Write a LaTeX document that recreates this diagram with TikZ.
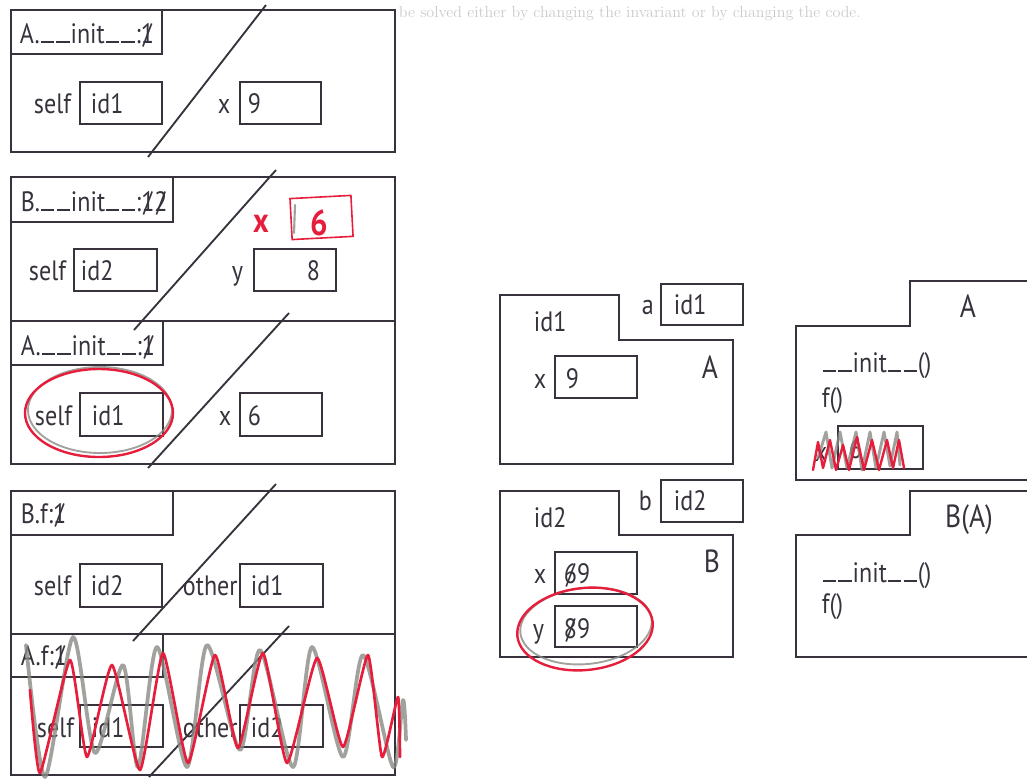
\documentclass[tikz,border=0pt]{standalone}
\usepackage{fontspec}
\newfontfamily\handfont[FakeStretch=0.86]{PT Sans}
\newcommand{\xo}[1]{\ooalign{#1\cr\hidewidth/\hidewidth\cr}}
\newcommand{\us}{\kern0.04em\rule{0.47em}{0.06em}\kern0.04em}
\definecolor{ink}{HTML}{37323C}
\definecolor{pen}{HTML}{E61E3C}
\definecolor{pencil}{HTML}{8A8A84}
\definecolor{ghost}{HTML}{CACACE}
\tikzset{every picture/.style={line width=1.4pt}}
\tikzset{
  hand/.style={font=\handfont\fontsize{21}{24}\selectfont, text=ink, inner sep=0.75pt},
  big/.style={font=\handfont\fontsize{24}{26}\selectfont, text=ink, inner sep=0.75pt},
  redmark/.style={draw=pen, line width=1.8pt, line join=round, line cap=round},
  greymark/.style={draw=pencil, line width=2.2pt, line join=round, line cap=round, opacity=0.8}
}

\begin{document}
\begin{tikzpicture}[x=0.75pt,y=0.75pt,yscale=-1,xscale=1]
\useasboundingbox (0,0) rectangle (1027,779);

% Text Node
\draw (397,17) node [anchor=base west][inner sep=0.75pt, text=ghost, font=\fontsize{12}{14}\selectfont] (bleed) {be solved either by changing the invariant or by changing the code.};

%%% frame A.__init__ (first call)
%Shape: Rectangle
\draw [ink] (11,10) -- (395,10) -- (395,152) -- (11,152) -- cycle ;
%Shape: Rectangle
\draw [ink] (11,10) -- (162,10) -- (162,54) -- (11,54) -- cycle ;
%Shape: Rectangle
\draw [ink] (80,82) -- (162,82) -- (162,124) -- (80,124) -- cycle ;
%Shape: Rectangle
\draw [ink] (240,82) -- (321,82) -- (321,124) -- (240,124) -- cycle ;
%Straight Lines
\draw [ink] (148,157) -- (266,5) ;
% Text Node
\draw (18,43) node [anchor=base west][hand] (ta) {A.\us\us init\us\us:\xo{1}};
% Text Node
\draw (32,113) node [anchor=base west][hand] (taself) {self};
% Text Node
\draw (89,113) node [anchor=base west][hand] (taselfv) {id1};
% Text Node
\draw (216,113) node [anchor=base west][hand] (tax) {x};
% Text Node
\draw (246,113) node [anchor=base west][hand] (taxv) {9};

%%% frame B.__init__ over A.__init__
%Shape: Rectangle
\draw [ink] (11,177) -- (395,177) -- (395,464) -- (11,464) -- cycle ;
\draw [ink] (11,321) -- (395,321) ;
%Shape: Rectangle
\draw [ink] (11,177) -- (173,177) -- (173,222) -- (11,222) -- cycle ;
%Shape: Rectangle
\draw [ink] (74,249) -- (157,249) -- (157,291) -- (74,291) -- cycle ;
%Shape: Rectangle
\draw [ink] (254,249) -- (336,249) -- (336,291) -- (254,291) -- cycle ;
%Straight Lines
\draw [ink] (134,330) -- (276,170) ;
% Text Node
\draw (19,211) node [anchor=base west][hand] (tb) {B.\us\us init\us\us:\xo{1}\xo{2}};
% Text Node
\draw (27,280) node [anchor=base west][hand] (tbself) {self};
% Text Node
\draw (79,280) node [anchor=base west][hand] (tbselfv) {id2};
% Text Node
\draw (230,280) node [anchor=base west][hand] (tby) {y};
% Text Node
\draw (305,280) node [anchor=base west][hand] (tbyv) {8};
% late x, in red
\draw [pen, line width=1.2pt, rotate around={-3:(321,217)}] (291,197) -- (352,197) -- (352,238) -- (291,238) -- cycle ;
\draw [greymark, line width=1.6pt] (295,205) -- (294,233) ;
\draw (261,224) node [anchor=center][hand, text=pen, font=\handfont\bfseries\fontsize{26}{30}\selectfont] (tbx) {x};
\draw (319,223) node [anchor=center][hand, text=pen, font=\handfont\bfseries\fontsize{27}{30}\selectfont] (tbxv) {6};

%Shape: Rectangle
\draw [ink] (11,321) -- (163,321) -- (163,365) -- (11,365) -- cycle ;
%Shape: Rectangle
\draw [ink] (80,393) -- (163,393) -- (163,436) -- (80,436) -- cycle ;
%Shape: Rectangle
\draw [ink] (240,393) -- (322,393) -- (322,436) -- (240,436) -- cycle ;
%Straight Lines
\draw [ink] (148,468) -- (289,313) ;
% Text Node
\draw (19,355) node [anchor=base west][hand] (tc) {A.\us\us init\us\us:\xo{1}};
% Text Node
\draw (33,425) node [anchor=base west][hand] (tcself) {self};
% Text Node
\draw (90,425) node [anchor=base west][hand] (tcselfv) {id1};
% Text Node
\draw (217,425) node [anchor=base west][hand] (tcx) {x};
% Text Node
\draw (246,425) node [anchor=base west][hand] (tcxv) {6};
%Shape: Ellipse
\draw [greymark, line width=1.4pt] (100,410) ellipse (72 and 43) ;
\draw [redmark] (99,413) ellipse (74 and 44) ;

%%% frame B.f over A.f
%Shape: Rectangle
\draw [ink] (11,491) -- (395,491) -- (395,775) -- (11,775) -- cycle ;
\draw [ink] (11,634) -- (395,634) ;
%Shape: Rectangle
\draw [ink] (11,491) -- (173,491) -- (173,535) -- (11,535) -- cycle ;
%Shape: Rectangle
\draw [ink] (80,564) -- (162,564) -- (162,607) -- (80,607) -- cycle ;
%Shape: Rectangle
\draw [ink] (240,564) -- (323,564) -- (323,607) -- (240,607) -- cycle ;
%Straight Lines
\draw [ink] (133,641) -- (276,484) ;
% Text Node
\draw (19,523) node [anchor=base west][hand] (td) {B.f:\xo{1}};
% Text Node
\draw (32,595) node [anchor=base west][hand] (tdself) {self};
% Text Node
\draw (181,595) node [anchor=base west][hand] (tdother) {other};
% Text Node
\draw (89,595) node [anchor=base west][hand] (tdselfv) {id2};
% Text Node
\draw (249,595) node [anchor=base west][hand] (tdotherv) {id1};

%Shape: Rectangle
\draw [ink] (11,634) -- (163,634) -- (163,677) -- (11,677) -- cycle ;
%Shape: Rectangle
\draw [ink] (80,705) -- (163,705) -- (163,747) -- (80,747) -- cycle ;
%Shape: Rectangle
\draw [ink] (240,705) -- (323,705) -- (323,747) -- (240,747) -- cycle ;
%Straight Lines
\draw [ink] (149,777) -- (289,626) ;
% Text Node
\draw (19,665) node [anchor=base west][hand] (te) {A.f:\xo{1}};
% Text Node
\draw (35,737) node [anchor=base west][hand] (teself) {self};
% Text Node
\draw (90,737) node [anchor=base west][hand] (teselfv) {id1};
% Text Node
\draw (181,737) node [anchor=base west][hand] (teother) {other};
% Text Node
\draw (249,737) node [anchor=base west][hand] (teotherv) {id2};
% scribbled out
\draw [greymark, line width=2.8pt] plot [smooth, tension=0.45] coordinates {(26,645) (45,777) (73,637) (95,753) (123,665) (138,767) (157,647) (187,767) (207,645) (240,750) (260,650) (293,767) (312,647) (343,757) (363,655) (393,767) (403,700) (406,740)} ;
\draw [redmark, line width=2pt] plot [smooth, tension=0.3] coordinates {(30,690) (40,773) (70,660) (87,757) (112,665) (140,770) (163,653) (188,763) (215,655) (238,748) (263,653) (287,763) (317,658) (343,747) (368,655) (382,757) (398,697) (400,757)} ;

%%% objects
%Shape: Polygon
\draw [ink] (500,295) -- (619,295) -- (619,340) -- (733,340) -- (733,464) -- (500,464) -- cycle ;
%Shape: Rectangle
\draw [ink] (661,284) -- (743,284) -- (743,325) -- (661,325) -- cycle ;
%Shape: Rectangle
\draw [ink] (555,356) -- (637,356) -- (637,398) -- (555,398) -- cycle ;
% Text Node
\draw (532,331) node [anchor=base west][hand] (oa) {id1};
% Text Node
\draw (640,314) node [anchor=base west][hand] (va) {a};
% Text Node
\draw (672,314) node [anchor=base west][hand] (vav) {id1};
% Text Node
\draw (532,388) node [anchor=base west][hand] (oax) {x};
% Text Node
\draw (564,388) node [anchor=base west][hand] (oaxv) {9};
% Text Node
\draw (700,378) node [anchor=base west][big] (oatype) {A};

%Shape: Polygon
\draw [ink] (500,491) -- (619,491) -- (619,535) -- (733,535) -- (733,657) -- (500,657) -- cycle ;
%Shape: Rectangle
\draw [ink] (661,480) -- (743,480) -- (743,522) -- (661,522) -- cycle ;
%Shape: Rectangle
\draw [ink] (555,552) -- (637,552) -- (637,594) -- (555,594) -- cycle ;
%Shape: Rectangle
\draw [ink] (555,606) -- (637,606) -- (637,647) -- (555,647) -- cycle ;
% Text Node
\draw (532,527) node [anchor=base west][hand] (ob) {id2};
% Text Node
\draw (637,510) node [anchor=base west][hand] (vb) {b};
% Text Node
\draw (672,510) node [anchor=base west][hand] (vbv) {id2};
% Text Node
\draw (532,583) node [anchor=base west][hand] (obx) {x};
% Text Node
\draw (562,583) node [anchor=base west][hand] (obxv) {\xo{6}9};
% Text Node
\draw (531,638) node [anchor=base west][hand] (oby) {y};
% Text Node
\draw (562,638) node [anchor=base west][hand] (obyv) {\xo{8}9};
% Text Node
\draw (702,572) node [anchor=base west][big] (obtype) {B};
%Shape: Ellipse
\draw [greymark, line width=1.4pt, rotate around={-6:(586,626)}] (586,626) ellipse (66 and 38) ;
\draw [redmark, rotate around={-6:(585,629)}] (585,629) ellipse (68 and 41) ;

%%% classes
%Shape: Polygon
\draw [ink] (1030,281) -- (910,281) -- (910,326) -- (796,326) -- (796,480) -- (1030,480) ;
%Shape: Rectangle
\draw [ink] (838,426) -- (923,426) -- (923,469) -- (838,469) -- cycle ;
% Text Node
\draw (968,317) node [anchor=base][big] (ca) {A};
% Text Node
\draw (820,372) node [anchor=base west][hand] (cainit) {\us\us init\us\us()};
% Text Node
\draw (820,407) node [anchor=base west][hand] (caf) {f()};
% Text Node
\draw (813,461) node [anchor=base west][hand] (cax) {x};
% Text Node
\draw (847,458) node [anchor=base west][hand] (caxv) {6};
% scribbled out
\draw [greymark] (818,458) -- (826,432) -- (832,468) -- (840,432) -- (847,468) -- (856,432) -- (862,470) -- (870,432) -- (876,468) -- (884,432) -- (890,466) -- (897,432) -- (900,465) ;
\draw [redmark] (813,470) -- (818,442) -- (823,468) -- (830,440) -- (836,470) -- (843,445) -- (849,470) -- (857,437) -- (864,470) -- (872,440) -- (879,470) -- (887,440) -- (893,468) -- (899,440) -- (904,468) ;

%Shape: Polygon
\draw [ink] (1030,491) -- (910,491) -- (910,535) -- (796,535) -- (796,657) -- (1030,657) ;
% Text Node
\draw (969,527) node [anchor=base][big] (cb) {B(A)};
% Text Node
\draw (820,582) node [anchor=base west][hand] (cbinit) {\us\us init\us\us()};
% Text Node
\draw (820,613) node [anchor=base west][hand] (cbf) {f()};
\end{tikzpicture}
\end{document}
